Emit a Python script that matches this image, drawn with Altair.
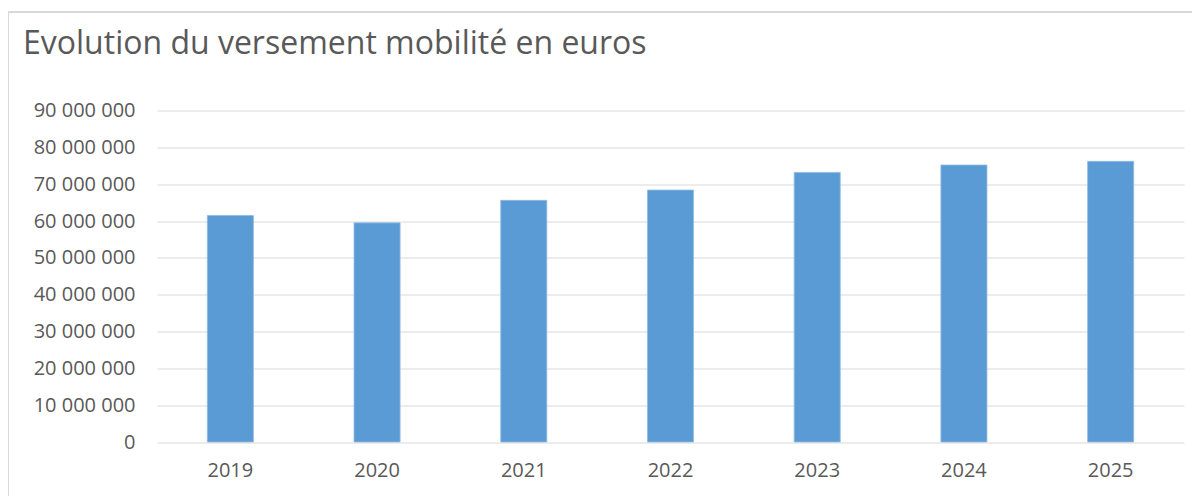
import altair as alt
import pandas as pd

years = ["2019", "2020", "2021", "2022", "2023", "2024", "2025"]
values = [61_500_000, 59_500_000, 65_600_000, 68_400_000, 73_200_000, 75_200_000, 76_200_000]
y_ticks = [0, 10_000_000, 20_000_000, 30_000_000, 40_000_000, 50_000_000,
           60_000_000, 70_000_000, 80_000_000, 90_000_000]
title_text = "Evolution du versement mobilité en euros"

df = pd.DataFrame({"annee": years, "montant": values})

FONT = "Open Sans"
TXT = "#595959"
GRID = "#d9d9d9"

bars = alt.Chart(df).mark_bar(color="#5b9bd5", stroke="#8fbbe3", strokeWidth=0.8).encode(
    x=alt.X("annee:N", sort=years,
            scale=alt.Scale(paddingInner=0.686, paddingOuter=0.343),
            axis=alt.Axis(title=None, labelAngle=0, domain=False, ticks=False,
                          grid=False, labelPadding=18, labelFont=FONT,
                          labelFontSize=20, labelColor=TXT)),
    y=alt.Y("montant:Q", scale=alt.Scale(domain=[0, 90_000_000], nice=False),
            axis=alt.Axis(title=None, values=y_ticks, domain=False, ticks=False,
                          labelPadding=22, labelFont=FONT, labelFontSize=20,
                          labelColor=TXT, gridColor=GRID, gridWidth=1.2,
                          labelExpr="replace(format(datum.value, ','), regexp(',', 'g'), ' ')")),
)

frame_top = alt.Chart(df).mark_rule(color=GRID, strokeWidth=1.5).encode(
    x=alt.value(-149), x2=alt.value(1200), y=alt.value(-98.5))
frame_left = alt.Chart(df).mark_rule(color=GRID, strokeWidth=1.5).encode(
    x=alt.value(-149), y=alt.value(-98.5), y2=alt.value(600))

chart = alt.layer(frame_top, frame_left, bars).properties(
    width=1027,
    height=331.5,
    autosize=alt.AutoSizeParams(type="none"),
    padding={"left": 149, "top": 102.5, "right": 8, "bottom": 54},
    title=alt.TitleParams(text=title_text, anchor="start", frame="group",
                          font=FONT, fontSize=32, fontWeight="normal",
                          color=TXT, baseline="alphabetic", offset=0,
                          dx=-134, dy=75),
).configure(background="white").configure_view(stroke=None)

chart.save("out.html", embed_options={"renderer": "svg", "actions": False})
